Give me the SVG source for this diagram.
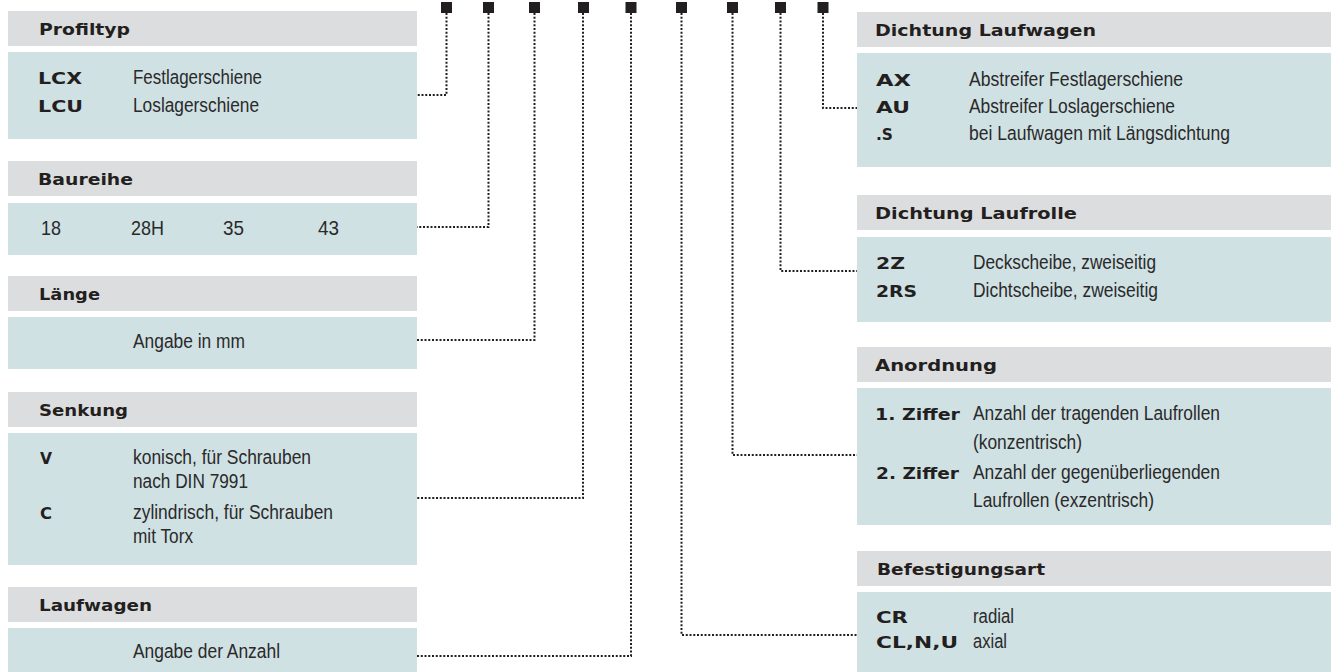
<svg xmlns="http://www.w3.org/2000/svg" width="1331" height="672" viewBox="0 0 1331 672">
  <style>
    .hd { fill: #dcdddf; }
    .bd { fill: #d0e1e4; }
    .h { font-family: "DejaVu Sans", sans-serif; font-weight: bold; font-size: 16.5px; fill: #231f20; }
    .k { font-family: "DejaVu Sans", sans-serif; font-weight: bold; font-size: 15px; fill: #231f20; }
    .t { font-family: "Liberation Sans", Arial, sans-serif; font-size: 20px; fill: #2a2a2a; }
    .dot { fill: none; stroke: #231f20; stroke-width: 2; stroke-dasharray: 2 1.75; }
    .pin { fill: #231f20; }
  </style>

  <!-- left column -->
  <g id="profiltyp">
    <rect class="hd" x="8" y="11" width="409" height="35"/>
    <rect class="bd" x="8" y="52" width="409" height="87"/>
    <text class="h" x="39" y="34.5" textLength="91" lengthAdjust="spacingAndGlyphs">Profiltyp</text>
    <text class="k" x="38" y="84" textLength="44" lengthAdjust="spacingAndGlyphs">LCX</text>
    <text class="t" x="133" y="84" textLength="129" lengthAdjust="spacingAndGlyphs">Festlagerschiene</text>
    <text class="k" x="38" y="112" textLength="45" lengthAdjust="spacingAndGlyphs">LCU</text>
    <text class="t" x="133" y="112" textLength="126" lengthAdjust="spacingAndGlyphs">Loslagerschiene</text>
  </g>

  <g id="baureihe">
    <rect class="hd" x="8" y="161" width="409" height="35"/>
    <rect class="bd" x="8" y="203" width="409" height="52"/>
    <text class="h" x="38" y="184.5" textLength="95" lengthAdjust="spacingAndGlyphs">Baureihe</text>
    <text class="t" x="41" y="235" textLength="20" lengthAdjust="spacingAndGlyphs">18</text>
    <text class="t" x="131" y="235" textLength="33" lengthAdjust="spacingAndGlyphs">28H</text>
    <text class="t" x="223" y="235" textLength="21" lengthAdjust="spacingAndGlyphs">35</text>
    <text class="t" x="318" y="235" textLength="21" lengthAdjust="spacingAndGlyphs">43</text>
  </g>

  <g id="laenge">
    <rect class="hd" x="8" y="276" width="409" height="35"/>
    <rect class="bd" x="8" y="317" width="409" height="52"/>
    <text class="h" x="39" y="299.5" textLength="61" lengthAdjust="spacingAndGlyphs">Länge</text>
    <text class="t" x="133" y="348" textLength="112" lengthAdjust="spacingAndGlyphs">Angabe in mm</text>
  </g>

  <g id="senkung">
    <rect class="hd" x="8" y="392" width="409" height="35"/>
    <rect class="bd" x="8" y="433" width="409" height="132"/>
    <text class="h" x="39" y="415.5" textLength="89" lengthAdjust="spacingAndGlyphs">Senkung</text>
    <text class="k" x="40" y="464" textLength="12" lengthAdjust="spacingAndGlyphs">V</text>
    <text class="t" x="133" y="464" textLength="178" lengthAdjust="spacingAndGlyphs">konisch, für Schrauben</text>
    <text class="t" x="133" y="488" textLength="115" lengthAdjust="spacingAndGlyphs">nach DIN 7991</text>
    <text class="k" x="40" y="519" textLength="12" lengthAdjust="spacingAndGlyphs">C</text>
    <text class="t" x="133" y="519" textLength="200" lengthAdjust="spacingAndGlyphs">zylindrisch, für Schrauben</text>
    <text class="t" x="133" y="543" textLength="60" lengthAdjust="spacingAndGlyphs">mit Torx</text>
  </g>

  <g id="laufwagen">
    <rect class="hd" x="8" y="587" width="409" height="35"/>
    <rect class="bd" x="8" y="628" width="409" height="44"/>
    <text class="h" x="39" y="610.5" textLength="113" lengthAdjust="spacingAndGlyphs">Laufwagen</text>
    <text class="t" x="133" y="658" textLength="147" lengthAdjust="spacingAndGlyphs">Angabe der Anzahl</text>
  </g>

  <!-- right column -->
  <g id="dichtung-laufwagen">
    <rect class="hd" x="857" y="12" width="474" height="35"/>
    <rect class="bd" x="857" y="53" width="474" height="114"/>
    <text class="h" x="875" y="35.5" textLength="221" lengthAdjust="spacingAndGlyphs">Dichtung Laufwagen</text>
    <text class="k" x="876" y="86" textLength="35" lengthAdjust="spacingAndGlyphs">AX</text>
    <text class="t" x="969" y="86" textLength="214" lengthAdjust="spacingAndGlyphs">Abstreifer Festlagerschiene</text>
    <text class="k" x="876" y="113" textLength="34" lengthAdjust="spacingAndGlyphs">AU</text>
    <text class="t" x="969" y="113" textLength="206" lengthAdjust="spacingAndGlyphs">Abstreifer Loslagerschiene</text>
    <text class="k" x="876" y="140" textLength="17" lengthAdjust="spacingAndGlyphs">.S</text>
    <text class="t" x="969" y="140" textLength="261" lengthAdjust="spacingAndGlyphs">bei Laufwagen mit Längsdichtung</text>
  </g>

  <g id="dichtung-laufrolle">
    <rect class="hd" x="857" y="195" width="474" height="35"/>
    <rect class="bd" x="857" y="237" width="474" height="85"/>
    <text class="h" x="875" y="218.5" textLength="202" lengthAdjust="spacingAndGlyphs">Dichtung Laufrolle</text>
    <text class="k" x="876" y="269" textLength="29" lengthAdjust="spacingAndGlyphs">2Z</text>
    <text class="t" x="973" y="269" textLength="183" lengthAdjust="spacingAndGlyphs">Deckscheibe, zweiseitig</text>
    <text class="k" x="876" y="297" textLength="41" lengthAdjust="spacingAndGlyphs">2RS</text>
    <text class="t" x="973" y="297" textLength="185" lengthAdjust="spacingAndGlyphs">Dichtscheibe, zweiseitig</text>
  </g>

  <g id="anordnung">
    <rect class="hd" x="857" y="347" width="474" height="35"/>
    <rect class="bd" x="857" y="388" width="474" height="137"/>
    <text class="h" x="875" y="370.5" textLength="122" lengthAdjust="spacingAndGlyphs">Anordnung</text>
    <text class="k" x="875" y="420" textLength="85" lengthAdjust="spacingAndGlyphs">1. Ziffer</text>
    <text class="t" x="973" y="420" textLength="247" lengthAdjust="spacingAndGlyphs">Anzahl der tragenden Laufrollen</text>
    <text class="t" x="973" y="449" textLength="109" lengthAdjust="spacingAndGlyphs">(konzentrisch)</text>
    <text class="k" x="876" y="479" textLength="83" lengthAdjust="spacingAndGlyphs">2. Ziffer</text>
    <text class="t" x="973" y="479" textLength="247" lengthAdjust="spacingAndGlyphs">Anzahl der gegenüberliegenden</text>
    <text class="t" x="973" y="507" textLength="181" lengthAdjust="spacingAndGlyphs">Laufrollen (exzentrisch)</text>
  </g>

  <g id="befestigungsart">
    <rect class="hd" x="857" y="551" width="474" height="35"/>
    <rect class="bd" x="857" y="592" width="474" height="80"/>
    <text class="h" x="877" y="574.5" textLength="168" lengthAdjust="spacingAndGlyphs">Befestigungsart</text>
    <text class="k" x="876" y="623" textLength="32" lengthAdjust="spacingAndGlyphs">CR</text>
    <text class="t" x="973" y="623" textLength="41" lengthAdjust="spacingAndGlyphs">radial</text>
    <text class="k" x="876" y="648" textLength="82" lengthAdjust="spacingAndGlyphs">CL,N,U</text>
    <text class="t" x="973" y="648" textLength="34" lengthAdjust="spacingAndGlyphs">axial</text>
  </g>

  <!-- code position markers and dotted leaders -->
  <g id="connectors">
    <rect class="pin" x="441" y="2" width="11" height="11"/>
    <rect class="pin" x="483" y="2" width="11" height="11"/>
    <rect class="pin" x="529" y="2" width="11" height="11"/>
    <rect class="pin" x="578" y="2" width="11" height="11"/>
    <rect class="pin" x="625.5" y="2" width="11" height="11"/>
    <rect class="pin" x="676" y="2" width="11" height="11"/>
    <rect class="pin" x="727" y="2" width="11" height="11"/>
    <rect class="pin" x="775" y="2" width="11" height="11"/>
    <rect class="pin" x="817.5" y="2" width="11" height="11"/>

    <path class="dot" d="M446.5 13 V95 H417"/>
    <path class="dot" d="M488.5 13 V227 H417"/>
    <path class="dot" d="M534.5 13 V340 H417"/>
    <path class="dot" d="M583 13 V498 H417"/>
    <path class="dot" d="M631 13 V656 H417"/>
    <path class="dot" d="M681.5 13 V635 H857"/>
    <path class="dot" d="M732.5 13 V455 H857"/>
    <path class="dot" d="M780.5 13 V271 H857"/>
    <path class="dot" d="M823 13 V108 H857"/>
  </g>
</svg>
